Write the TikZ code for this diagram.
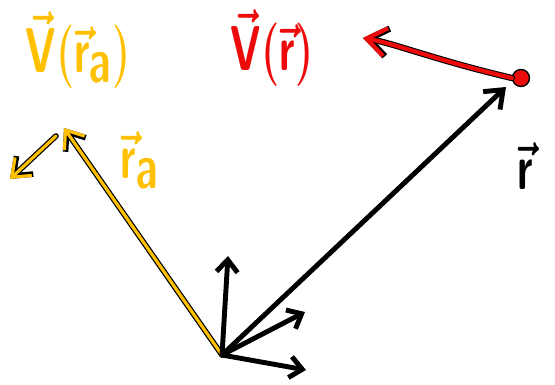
\documentclass[tikz,border=0pt]{standalone}
\usepackage{amsmath}
\usepackage{graphicx}
\usetikzlibrary{positioning, arrows.meta, calc}
\definecolor{penyellow}{RGB}{255,192,0}
\definecolor{penred}{RGB}{237,10,10}
\newcommand{\tallpen}[1]{\scalebox{0.95}[1.45]{#1}}

\begin{document}
\begin{tikzpicture}[
  x=0.02cm, y=-0.02cm,
  barb/.style={-{Straight Barb[length=9pt, width=14pt]}},
  blackpen/.style={draw=black, line width=2.8pt, line cap=round, line join=round},
  yellowpen/.style={preaction={draw=black, line width=3.2pt, line cap=round, line join=round},
    draw=penyellow, line width=1.8pt, line cap=round, line join=round},
  redpen/.style={preaction={draw=black, line width=3.6pt, line cap=round, line join=round},
    draw=penred, line width=2.4pt, line cap=round, line join=round},
  lbl/.style={inner sep=0pt, font=\fontsize{38}{42}\selectfont\boldmath},
]
  \useasboundingbox (0,0) rectangle (555,385);

  % points
  \coordinate (O) at (222,355);
  \coordinate (ra) at (64,128);
  \coordinate (fa) at (10,179);
  \coordinate (rtip) at (506,87);
  \coordinate (ez) at (228,256);
  \coordinate (ey) at (305,312);
  \coordinate (ex) at (306,370);
  \node[circle, fill=penred, draw=black, line width=0.8pt, minimum size=0.34cm, inner sep=0pt] (q) at (521,78) {};
  \coordinate (Vend) at (363,38);

  % labels
  \node[lbl, text=penyellow] (lblVa) at (78,50) {\tallpen{$\vec{\mathsf{V}}(\vec{\mathsf{r}}_{\mathsf{a}})$}};
  \node[lbl, text=penred] (lblV) at (272,48) {\tallpen{$\vec{\mathsf{V}}(\vec{\mathsf{r}})$}};
  \node[lbl, text=penyellow] (lblra) at (140,160) {\tallpen{$\vec{\mathsf{r}}_{\mathsf{a}}$}};
  \node[lbl] (lblr) at (526,166) {\tallpen{$\vec{\mathsf{r}}$}};

  % vectors
  \draw[yellowpen, barb] (O) -- (ra);
  \draw[yellowpen, barb] ($(ra)+(-8,8)$) -- (fa);
  \draw[blackpen, barb] (O) -- (rtip);
  \draw[redpen, -{Straight Barb[length=11pt, width=16pt]}] (q.west)
    .. controls (470,68) and (450,62) .. (420,53) .. controls (400,47) and (385,42) .. (Vend);

  % axes
  \foreach \e in {ez, ey, ex} \draw[blackpen, -{Straight Barb[length=7pt, width=12pt]}] (O) -- (\e);
\end{tikzpicture}
\end{document}
